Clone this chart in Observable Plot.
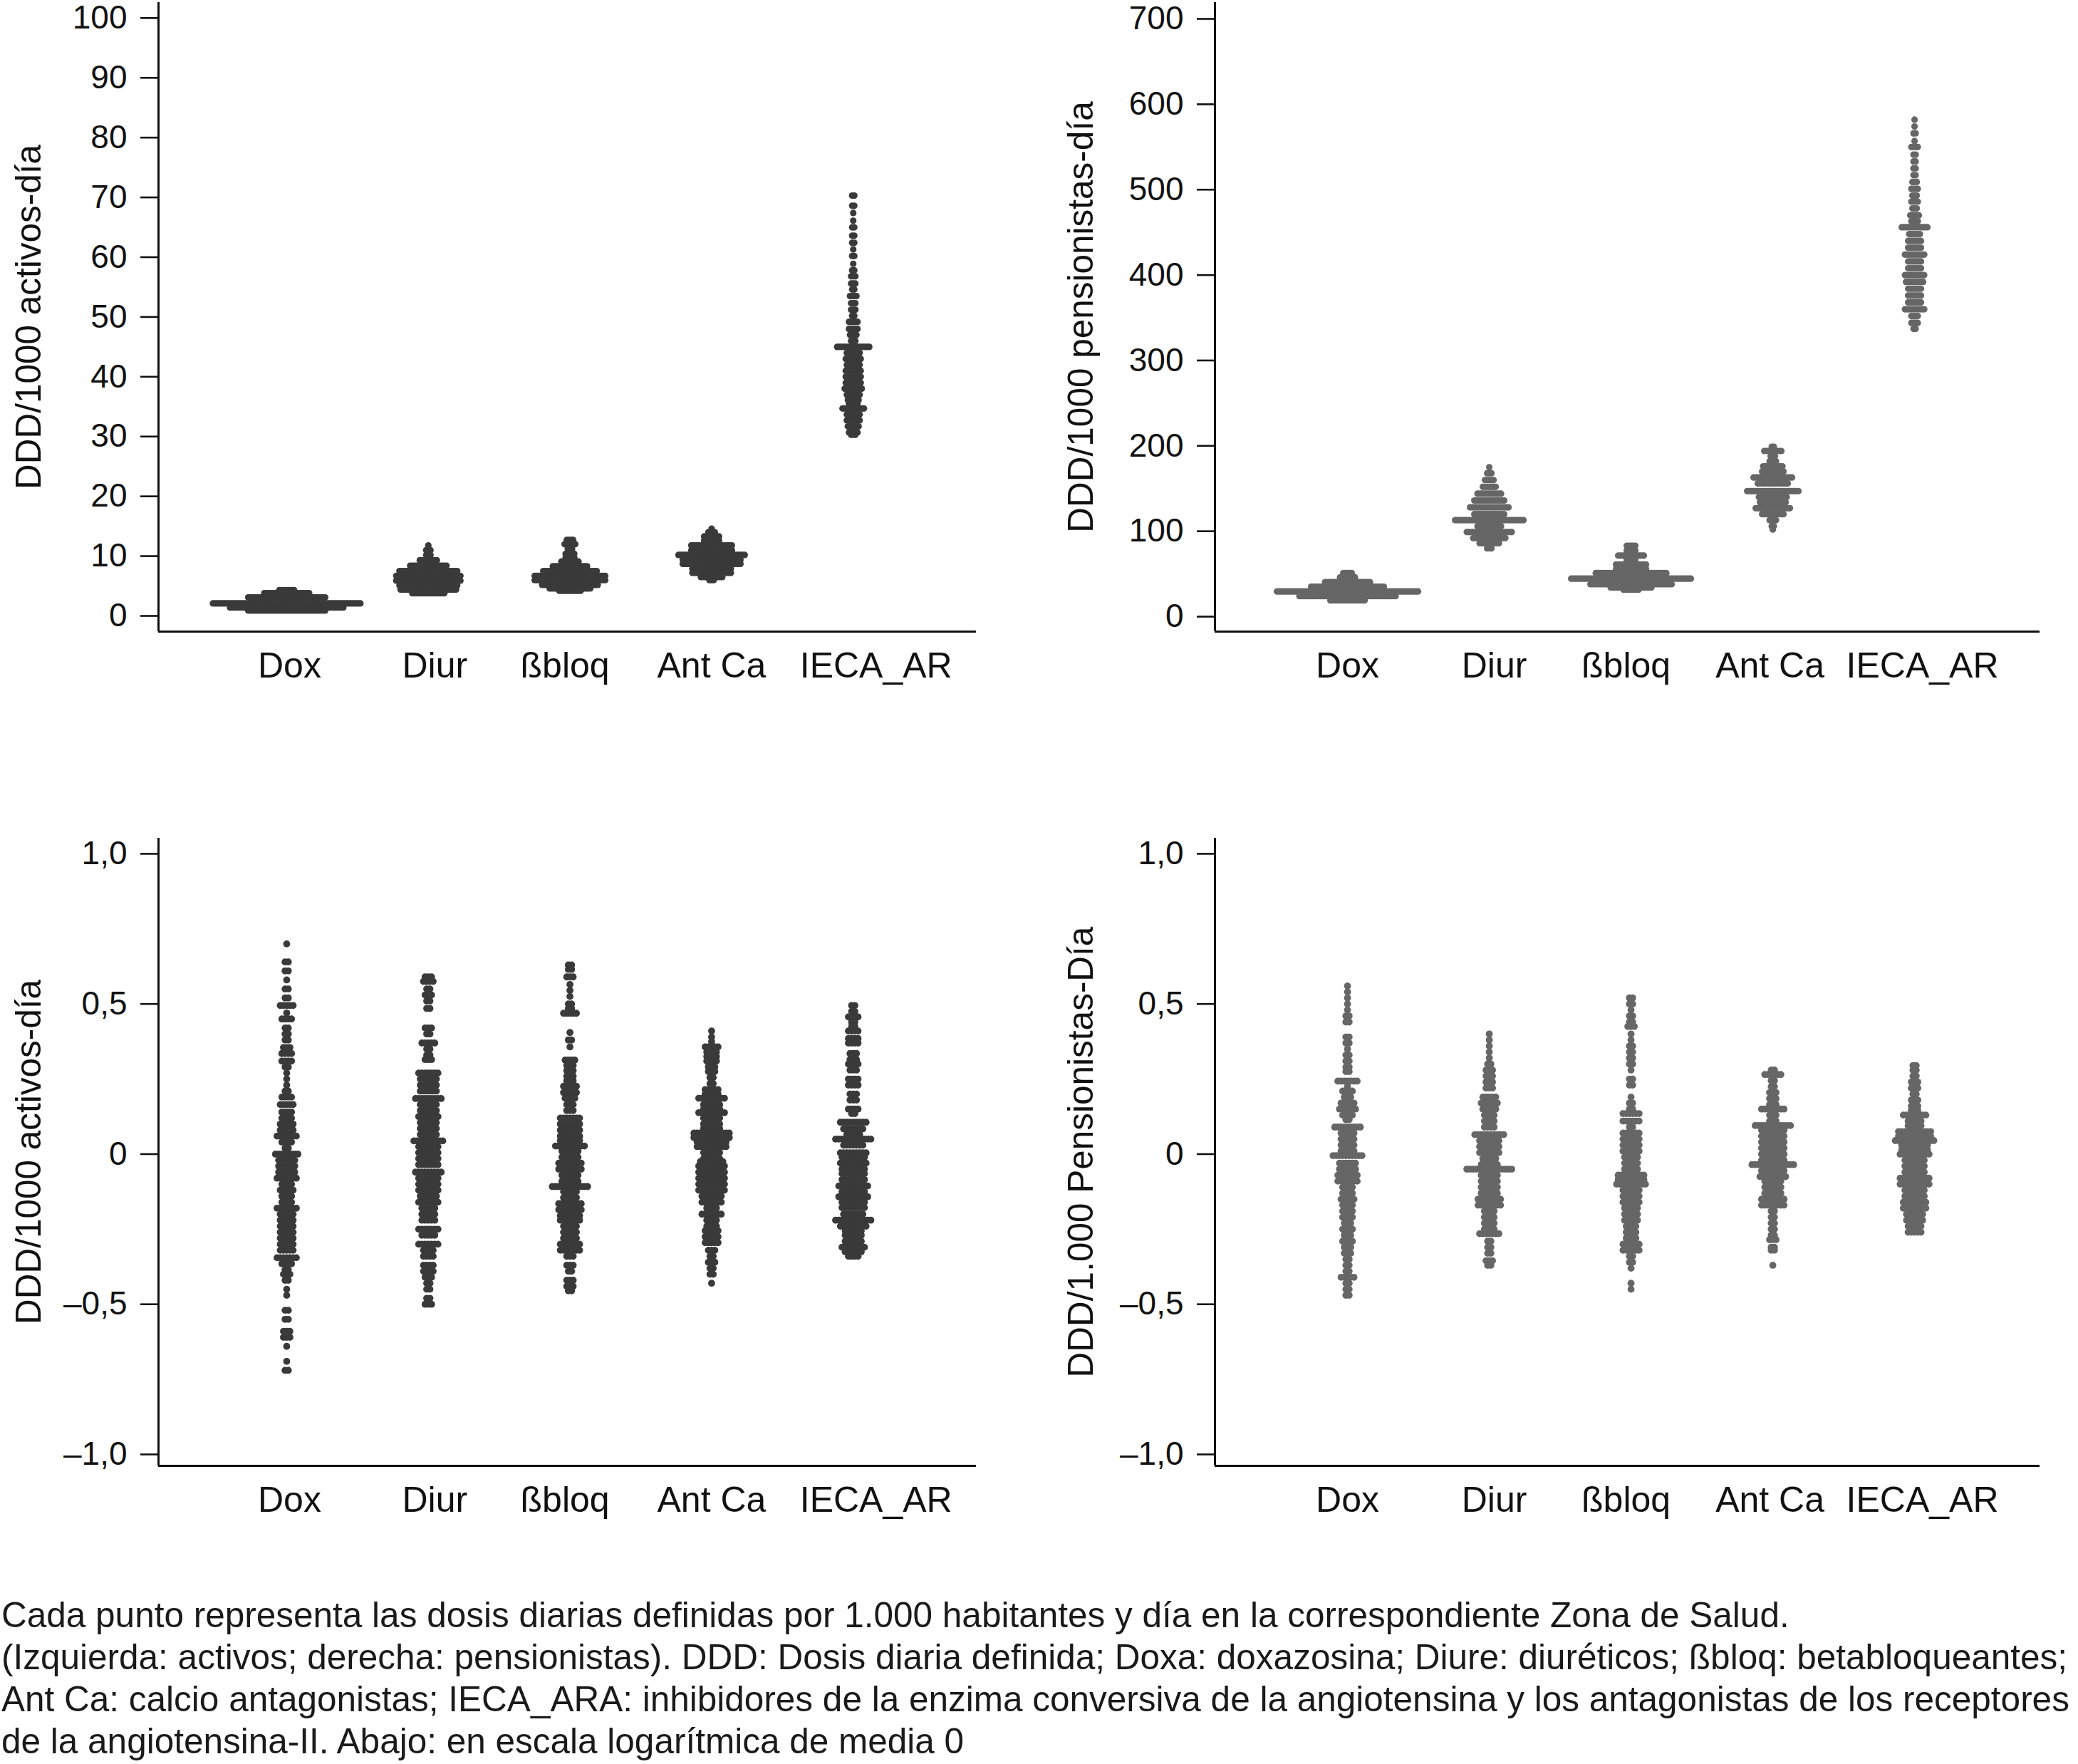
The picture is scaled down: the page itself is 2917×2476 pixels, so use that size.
<!DOCTYPE html>
<html><head><meta charset="utf-8">
<script src="https://cdn.jsdelivr.net/npm/d3@7"></script>
<script src="https://cdn.jsdelivr.net/npm/@observablehq/plot@0.6"></script>
<style>
html,body{margin:0;padding:0;background:#fff}
body{width:2917px;height:2476px;position:relative;overflow:hidden;font-family:"Liberation Sans",Arial,sans-serif}
.panel{position:absolute}
#caption{position:absolute;left:2px;top:2237px;font-size:49.5px;line-height:59px;color:#1a1a1a;white-space:nowrap}
</style></head><body>
<div id="tl" class="panel" style="left:0;top:0"></div>
<div id="tr" class="panel" style="left:1458px;top:0"></div>
<div id="bl" class="panel" style="left:0;top:1150px"></div>
<div id="br" class="panel" style="left:1458px;top:1150px"></div>
<div id="caption">Cada punto representa las dosis diarias definidas por 1.000 habitantes y día en la correspondiente Zona de Salud.<br>(Izquierda: activos; derecha: pensionistas). DDD: Dosis diaria definida; Doxa: doxazosina; Diure: diuréticos; ßbloq: betabloqueantes;<br>Ant Ca: calcio antagonistas; IECA_ARA: inhibidores de la enzima conversiva de la angiotensina y los antagonistas de los receptores<br>de la angiotensina-II. Abajo: en escala logarítmica de media 0</div>
<script>
const categories = ["Dox", "Diur", "ßbloq", "Ant Ca", "IECA_AR"];

// Each row: [value of the dot row, number of dots in that row] (Stata-style dot plot)
// Top-left: DDD/1000 activos-día
const tlDox = [[4.3,8],[3.8,22],[3.1,37],[2.1,70],[1.4,54],[0.9,37]];
const tlDiur = [[11.8,1],[11.0,3],[10.2,3],[9.3,9],[8.4,18],[7.5,28],[6.7,31],[5.9,31],[5.1,28],[4.4,27],[3.8,16]];
const tlBbloq = [[12.7,4],[12.0,6],[11.2,3],[10.4,5],[9.8,5],[9.1,9],[8.3,17],[7.5,26],[6.7,34],[6.0,34],[5.2,27],[4.6,20],[4.2,11]];
const tlAntCa = [[14.6,1],[14.0,4],[13.3,8],[12.6,8],[11.8,20],[11.0,20],[10.2,32],[9.4,28],[8.7,28],[7.9,19],[7.2,19],[6.5,11],[6.0,3]];
const tlIeca = [[70.3,2],[68.6,2],[67.4,1],[66.1,1],[65.0,2],[63.6,2],[62.4,2],[61.3,1],[60.2,2],[58.9,1],[57.8,2],[56.8,3],[55.6,3],[54.6,2],[53.5,4],[52.3,3],[51.2,3],[50.2,2],[49.2,5],[48.0,5],[47.0,4],[46.0,3],[45.0,16],[44.0,7],[43.0,8],[42.0,7],[41.0,8],[40.0,8],[39.0,8],[38.0,9],[37.0,7],[36.1,6],[35.5,5],[34.7,11],[33.7,7],[32.7,7],[31.7,6],[30.7,5],[30.3,3]];

// Top-right: DDD/1000 pensionistas-día
const trDox = [[51,5],[46,8],[40.5,22],[35,35],[29.5,67],[24,46],[19,17]];
const trDiur = [[175,1],[168,3],[160,5],[152,7],[144,12],[136,15],[128,19],[120,15],[113,33],[106,12],[99,22],[92,16],[86,10],[80,3]];
const trBbloq = [[83,5],[77.5,5],[71.5,13],[66.5,5],[61,15],[56,15],[51,34],[44.5,57],[38,39],[34,20],[31.5,8]];
const trAntCa = [[199,2],[194,9],[188,3],[182,4],[176,10],[170,11],[163,19],[156,15],[147,25],[140,14],[134,13],[127,17],[120,11],[113,4],[106,2],[102,1]];
const trIeca = [[582,1],[574,1],[566,2],[557,1],[550,4],[541,2],[533,2],[525,2],[517,2],[509,3],[501,4],[493,3],[486,4],[478,3],[470,5],[463,4],[456,13],[448,6],[440,7],[432,7],[424,10],[416,7],[408,7],[400,10],[392,9],[384,7],[376,7],[368,7],[360,10],[352,4],[344,4],[337,2]];

// Bottom-left: log scale, mean 0 (activos)
const blDox = [[0.70,1],[0.64,2],[0.61,2],[0.58,1],[0.55,2],[0.52,2],[0.495,5],[0.47,1],[0.45,4],[0.42,2],[0.40,2],[0.38,2],[0.355,3],[0.335,4],[0.31,4],[0.29,2],[0.27,1],[0.25,1],[0.23,1],[0.21,2],[0.19,4],[0.165,5],[0.14,4],[0.12,4],[0.10,5],[0.08,5],[0.06,7],[0.04,4],[0.02,2],[0.0,8],[-0.02,6],[-0.04,6],[-0.06,6],[-0.08,7],[-0.10,4],[-0.12,5],[-0.14,4],[-0.16,4],[-0.18,7],[-0.20,5],[-0.22,5],[-0.24,5],[-0.26,5],[-0.28,5],[-0.30,5],[-0.32,5],[-0.345,7],[-0.365,4],[-0.385,2],[-0.40,3],[-0.42,2],[-0.45,1],[-0.47,1],[-0.52,2],[-0.55,2],[-0.59,3],[-0.61,3],[-0.64,1],[-0.69,1],[-0.72,2]];
const blDiur = [[0.59,3],[0.575,4],[0.55,2],[0.53,3],[0.51,2],[0.485,2],[0.42,3],[0.40,2],[0.37,5],[0.35,2],[0.33,2],[0.315,3],[0.27,7],[0.25,6],[0.23,6],[0.21,6],[0.185,9],[0.165,6],[0.145,6],[0.125,7],[0.105,6],[0.085,6],[0.065,6],[0.044,10],[0.025,7],[0.005,7],[-0.015,7],[-0.035,7],[-0.06,9],[-0.08,7],[-0.10,7],[-0.12,7],[-0.14,6],[-0.16,7],[-0.18,5],[-0.20,5],[-0.22,5],[-0.25,7],[-0.27,5],[-0.30,7],[-0.32,4],[-0.34,4],[-0.37,4],[-0.39,4],[-0.41,3],[-0.43,2],[-0.45,2],[-0.48,2],[-0.50,3]];
const blBbloq = [[0.63,2],[0.615,2],[0.59,3],[0.565,1],[0.545,1],[0.525,1],[0.50,2],[0.485,2],[0.469,5],[0.405,1],[0.38,2],[0.357,1],[0.313,4],[0.295,3],[0.278,3],[0.26,3],[0.245,3],[0.226,5],[0.205,5],[0.186,4],[0.165,3],[0.145,3],[0.12,7],[0.10,7],[0.08,7],[0.06,7],[0.045,7],[0.027,10],[0.01,6],[-0.01,6],[-0.03,8],[-0.05,8],[-0.07,6],[-0.09,6],[-0.108,12],[-0.125,5],[-0.145,5],[-0.165,8],[-0.185,8],[-0.205,7],[-0.22,7],[-0.24,5],[-0.26,5],[-0.28,5],[-0.30,7],[-0.32,7],[-0.34,3],[-0.37,3],[-0.39,2],[-0.42,3],[-0.44,3],[-0.455,2]];
const blAntCa = [[0.41,1],[0.39,1],[0.375,1],[0.357,5],[0.34,4],[0.325,4],[0.31,4],[0.29,3],[0.275,3],[0.255,2],[0.235,2],[0.215,5],[0.20,5],[0.186,9],[0.165,6],[0.15,6],[0.138,9],[0.12,6],[0.10,6],[0.085,6],[0.07,12],[0.055,12],[0.04,10],[0.025,10],[0.005,6],[-0.015,6],[-0.025,8],[-0.04,9],[-0.06,9],[-0.08,9],[-0.10,9],[-0.12,9],[-0.14,7],[-0.16,7],[-0.18,4],[-0.20,7],[-0.22,4],[-0.24,4],[-0.255,5],[-0.275,5],[-0.295,5],[-0.32,3],[-0.34,2],[-0.36,3],[-0.38,2],[-0.40,2],[-0.43,1]];
const blIeca = [[0.495,2],[0.475,2],[0.457,4],[0.44,2],[0.425,2],[0.41,4],[0.385,4],[0.37,4],[0.335,3],[0.315,3],[0.30,4],[0.28,3],[0.25,4],[0.23,4],[0.20,3],[0.18,3],[0.15,4],[0.135,2],[0.106,9],[0.084,7],[0.065,5],[0.05,12],[0.03,7],[0.004,9],[-0.01,8],[-0.03,9],[-0.05,8],[-0.065,8],[-0.085,8],[-0.106,10],[-0.125,8],[-0.142,10],[-0.16,8],[-0.178,8],[-0.20,7],[-0.22,12],[-0.24,9],[-0.255,6],[-0.27,6],[-0.29,6],[-0.31,8],[-0.325,6],[-0.34,4]];

// Bottom-right: log scale, mean 0 (pensionistas)
const brDox = [[0.56,1],[0.54,1],[0.52,1],[0.50,1],[0.48,1],[0.46,2],[0.44,2],[0.39,2],[0.37,2],[0.35,1],[0.33,2],[0.31,2],[0.29,2],[0.275,2],[0.243,7],[0.225,1],[0.21,4],[0.19,3],[0.17,5],[0.15,6],[0.13,4],[0.115,2],[0.09,9],[0.07,5],[0.05,5],[0.03,5],[0.01,5],[-0.005,10],[-0.03,6],[-0.05,6],[-0.07,7],[-0.09,7],[-0.11,4],[-0.13,4],[-0.15,5],[-0.17,4],[-0.19,4],[-0.21,4],[-0.23,3],[-0.25,4],[-0.27,3],[-0.29,4],[-0.31,3],[-0.33,3],[-0.35,2],[-0.37,2],[-0.39,2],[-0.41,5],[-0.43,2],[-0.45,2],[-0.47,2]];
const brDiur = [[0.40,1],[0.38,1],[0.36,1],[0.34,1],[0.32,1],[0.30,2],[0.28,3],[0.26,3],[0.24,3],[0.22,3],[0.19,5],[0.17,6],[0.15,5],[0.13,4],[0.11,4],[0.09,4],[0.065,10],[0.045,7],[0.025,7],[0.005,7],[-0.015,5],[-0.035,6],[-0.05,15],[-0.07,6],[-0.09,6],[-0.11,6],[-0.13,6],[-0.15,8],[-0.17,8],[-0.19,4],[-0.21,4],[-0.23,4],[-0.25,4],[-0.265,7],[-0.29,2],[-0.31,2],[-0.33,2],[-0.355,3],[-0.37,2]];
const brBbloq = [[0.52,2],[0.50,2],[0.48,1],[0.46,2],[0.44,2],[0.425,3],[0.40,1],[0.38,1],[0.36,2],[0.34,2],[0.32,2],[0.30,2],[0.28,1],[0.25,2],[0.23,2],[0.19,1],[0.17,2],[0.15,2],[0.135,6],[0.11,6],[0.09,2],[0.07,6],[0.05,6],[0.03,6],[0.01,6],[-0.01,5],[-0.03,5],[-0.05,5],[-0.07,9],[-0.085,9],[-0.10,10],[-0.12,6],[-0.14,6],[-0.16,6],[-0.18,5],[-0.20,5],[-0.22,5],[-0.24,4],[-0.26,4],[-0.28,4],[-0.30,6],[-0.32,6],[-0.34,2],[-0.36,2],[-0.38,1],[-0.43,1],[-0.45,1]];
const brAntCa = [[0.28,2],[0.265,6],[0.245,2],[0.225,2],[0.205,3],[0.185,3],[0.165,3],[0.15,8],[0.13,3],[0.11,3],[0.095,12],[0.08,8],[0.06,8],[0.04,8],[0.02,8],[0.0,8],[-0.02,8],[-0.035,14],[-0.055,8],[-0.075,9],[-0.09,6],[-0.11,6],[-0.13,6],[-0.15,8],[-0.17,8],[-0.19,2],[-0.21,2],[-0.23,2],[-0.25,2],[-0.27,2],[-0.285,3],[-0.31,2],[-0.32,2],[-0.37,1]];
const brIeca = [[0.295,2],[0.28,2],[0.26,2],[0.24,3],[0.22,3],[0.20,2],[0.18,3],[0.16,3],[0.145,3],[0.13,8],[0.11,5],[0.095,5],[0.075,11],[0.06,11],[0.045,13],[0.03,9],[0.015,9],[0.0,10],[-0.02,7],[-0.04,7],[-0.06,7],[-0.08,10],[-0.10,10],[-0.12,7],[-0.14,7],[-0.16,8],[-0.18,8],[-0.20,6],[-0.22,6],[-0.24,5],[-0.26,5]];

const topTicks = [0,10,20,30,40,50,60,70,80,90,100];
const topRightTicks = [0,100,200,300,400,500,600,700];
const logTicks = [-1,-0.5,0,0.5,1];

const FONT = "Liberation Sans, Arial, Helvetica, sans-serif";
const fmtComma = d => d === 0 ? "0" : (d < 0 ? "\u2013" : "") + Math.abs(d).toFixed(1).replace(".", ",");

function panel(cfg) {
  const {groups, s, r, color, yDomain, yTicks, tickFormat, title, titleDx, xDomain, frame, size, labelShift} = cfg;
  const step = (frame.right - frame.left) / (xDomain[1] - xDomain[0]);
  const pts = [];
  groups.forEach((rows, i) => {
    for (const [v, n] of rows) {
      for (let k = 0; k < n; k++) pts.push({x: i + (k - (n - 1) / 2) * s / step, y: v});
    }
  });
  const labelMarks = categories.map((c, i) =>
    Plot.text([c], {x: () => i, frameAnchor: "bottom", dy: 48, dx: labelShift[i], fontSize: 50, fill: "#111", lineAnchor: "middle", textAnchor: "middle"}));
  return Plot.plot({
    width: size.w, height: size.h,
    marginLeft: frame.left, marginRight: size.w - frame.right,
    marginTop: frame.top, marginBottom: size.h - frame.bottom,
    x: {type: "linear", domain: xDomain, axis: null},
    y: {type: "linear", domain: yDomain},
    style: {fontFamily: FONT, background: "white", color: "#111", overflow: "visible"},
    marks: [
      Plot.dot(pts, {x: "x", y: "y", r, fill: color, stroke: "none"}),
      Plot.axisY(yTicks, {anchor: "left", tickSize: 25, tickPadding: 19, fontSize: 46, tickFormat, strokeWidth: 2.6, stroke: "#111", fill: "#111", label: null}),
      Plot.ruleX([xDomain[0]], {stroke: "#111", strokeWidth: 3}),
      Plot.ruleY([yDomain[0]], {stroke: "#111", strokeWidth: 3}),
      ...labelMarks,
      Plot.text([title], {frameAnchor: "left", rotate: -90, dx: titleDx, fontSize: 49.5, fill: "#111", lineAnchor: "middle", textAnchor: "middle"})
    ]
  });
}

const leftX = [-0.905, 4.869];
const rightX = [-0.935, 4.884];
const leftLabelShift = [4, 9, -7, 0, 32];
const rightLabelShift = [0, 7, -7, -4, 11];

document.getElementById("tl").append(panel({
  groups: [tlDox, tlDiur, tlBbloq, tlAntCa, tlIeca], s: 3, r: 4.6, color: "#3a3a3a",
  yDomain: [-2.62, 102.6], yTicks: topTicks, tickFormat: d => String(d),
  title: "DDD/1000 activos-día", titleDx: -181, xDomain: leftX, labelShift: leftLabelShift,
  frame: {left: 222, right: 1370, top: 3, bottom: 886}, size: {w: 1458, h: 980}
}));
document.getElementById("tr").append(panel({
  groups: [trDox, trDiur, trBbloq, trAntCa, trIeca], s: 3, r: 4.6, color: "#666666",
  yDomain: [-17.5, 719.2], yTicks: topRightTicks, tickFormat: d => String(d),
  title: "DDD/1000 pensionistas-día", titleDx: -187, xDomain: rightX, labelShift: rightLabelShift,
  frame: {left: 247, right: 1405, top: 3, bottom: 886}, size: {w: 1459, h: 980}
}));
document.getElementById("bl").append(panel({
  groups: [blDox, blDiur, blBbloq, blAntCa, blIeca], s: 4.5, r: 4.9, color: "#3a3a3a",
  yDomain: [-1.038, 1.052], yTicks: logTicks, tickFormat: fmtComma,
  title: "DDD/1000 activos-día", titleDx: -181, xDomain: leftX, labelShift: leftLabelShift,
  frame: {left: 222, right: 1370, top: 26, bottom: 907}, size: {w: 1458, h: 1010}
}));
document.getElementById("br").append(panel({
  groups: [brDox, brDiur, brBbloq, brAntCa, brIeca], s: 4.5, r: 4.9, color: "#666666",
  yDomain: [-1.038, 1.052], yTicks: logTicks, tickFormat: fmtComma,
  title: "DDD/1.000 Pensionistas-Día", titleDx: -187, xDomain: rightX, labelShift: rightLabelShift,
  frame: {left: 247, right: 1405, top: 26, bottom: 907}, size: {w: 1459, h: 1010}
}));
</script>
</body></html>
